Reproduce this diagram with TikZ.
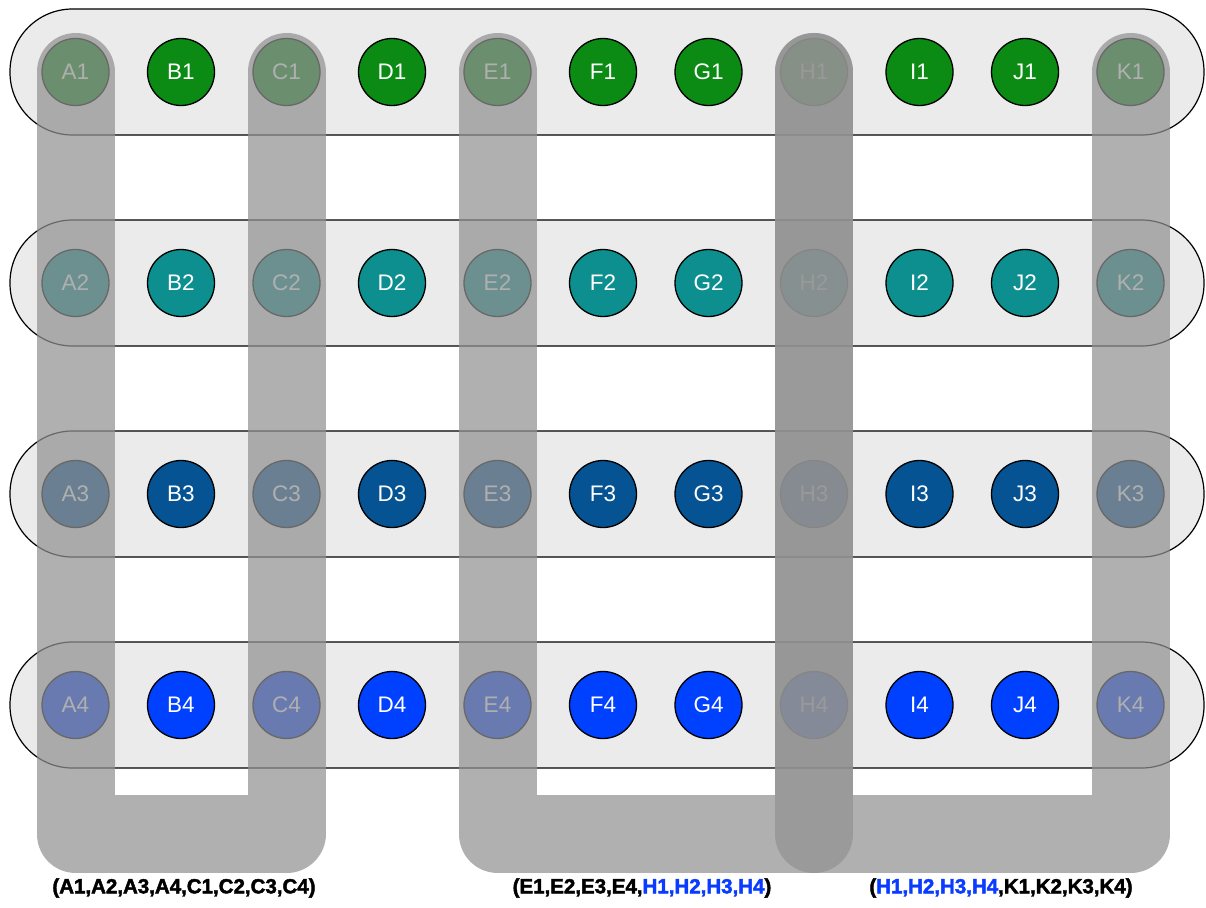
\documentclass[tikz,border=0pt]{standalone}
\usepackage{fontspec}
\setmainfont{Liberation Sans}
\newfontfamily\heavyfont[FakeBold=2.2]{Liberation Sans}
\definecolor{bandgray}{HTML}{EBEBEB}
\definecolor{overgray}{RGB}{145,145,145}
\definecolor{rowa}{HTML}{0B8B14}
\definecolor{rowb}{HTML}{0E8F8F}
\definecolor{rowc}{HTML}{055392}
\definecolor{rowd}{HTML}{0040FF}
\definecolor{hblue}{HTML}{0A3CFF}
\begin{document}
\begin{tikzpicture}[x=1pt,y=-1pt,
  band/.style={fill=bandgray, draw=black, line width=1.2pt, rounded corners=62.5pt},
  ball/.style={circle, draw=black, line width=1.3pt, minimum size=67pt, inner sep=0pt, text=white, font=\fontsize{22.5}{26}\selectfont},
  group/.style={draw=overgray, draw opacity=0.72, line width=78pt, line cap=round, line join=round},
  lbl/.style={font=\heavyfont\bfseries\fontsize{20.5}{24}\selectfont, text=black, inner sep=0pt}]
\useasboundingbox (0,0) rectangle (1206,907);
% row bands
\foreach \y in {72,283,494,705}{
  \draw[band] (10,\y-63) rectangle (1204,\y+63);
}
% nodes
\foreach \r/\y/\c in {1/72/rowa,2/283/rowb,3/494/rowc,4/705/rowd}{
  \foreach \l [count=\i from 0] in {A,B,C,D,E,F,G,H,I,J,K}{
    \node[ball, fill=\c] (\l\r) at (75.5+105.5*\i,\y) {\l\r};
  }
}
% group bottoms
\coordinate (bot) at (0,834);
% groups
\draw[group] (A1.center) -- (A1.center |- bot) -- (C1.center |- bot) -- (C1.center);
\draw[group] (E1.center) -- (E1.center |- bot) -- (H1.center |- bot) -- (H1.center);
\draw[group] (H1.center) -- (H1.center |- bot) -- (K1.center |- bot) -- (K1.center);
% labels
\node[lbl] (l1) at (184,888) {(A1,A2,A3,A4,C1,C2,C3,C4)};
\node[lbl] (l2) at (642,888) {(E1,E2,E3,E4,{\color{hblue}H1,H2,H3,H4})};
\node[lbl] (l3) at (1001,888) {({\color{hblue}H1,H2,H3,H4},K1,K2,K3,K4)};
\end{tikzpicture}
\end{document}
